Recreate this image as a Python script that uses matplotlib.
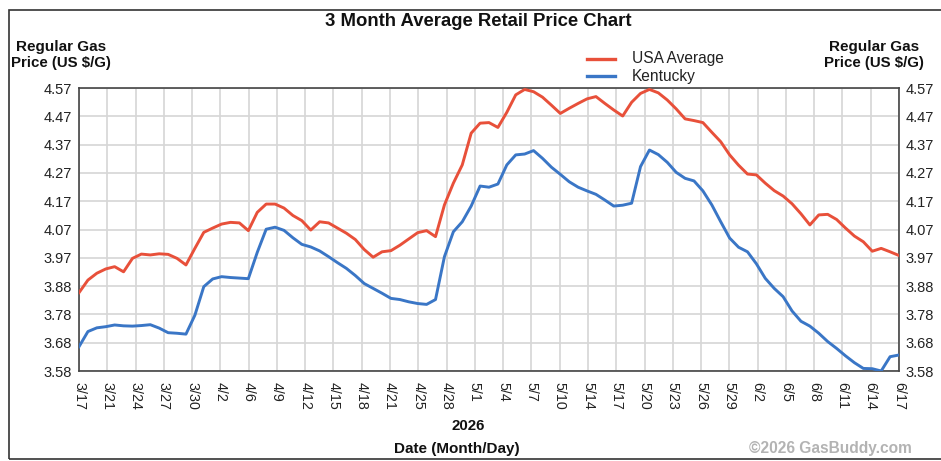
import numpy as np
import pandas as pd
import matplotlib
matplotlib.use("Agg")
import matplotlib.pyplot as plt
import matplotlib.dates as mdates
from matplotlib.patches import Rectangle
from matplotlib.lines import Line2D

plt.rcParams['font.family'] = ['Liberation Sans', 'DejaVu Sans']

# ---- data ----
start_date = "2026-03-17"
end_date = "2026-06-17"

usa_average = [3.854, 3.898, 3.922, 3.937, 3.945, 3.927, 3.974, 3.989, 3.986, 3.990,
               3.988, 3.974, 3.951, 4.009, 4.065, 4.080, 4.094, 4.100, 4.098, 4.071,
               4.135, 4.164, 4.164, 4.150, 4.124, 4.106, 4.073, 4.102, 4.098, 4.080,
               4.062, 4.040, 4.005, 3.978, 3.997, 4.001, 4.020, 4.042, 4.064, 4.071,
               4.050, 4.161, 4.237, 4.301, 4.412, 4.447, 4.449, 4.432, 4.485, 4.546,
               4.565, 4.557, 4.538, 4.510, 4.481, 4.499, 4.516, 4.532, 4.540, 4.516,
               4.493, 4.472, 4.520, 4.551, 4.565, 4.553, 4.528, 4.497, 4.462, 4.456,
               4.449, 4.415, 4.382, 4.336, 4.300, 4.269, 4.266, 4.237, 4.211, 4.192,
               4.165, 4.130, 4.091, 4.126, 4.128, 4.110, 4.080, 4.052, 4.032, 3.999,
               4.009, 3.997, 3.984]

kentucky = [3.665, 3.718, 3.731, 3.735, 3.741, 3.738, 3.737, 3.739, 3.742, 3.730,
            3.714, 3.712, 3.709, 3.775, 3.875, 3.902, 3.910, 3.907, 3.905, 3.903,
            3.995, 4.076, 4.083, 4.072, 4.046, 4.023, 4.014, 4.000, 3.980, 3.959,
            3.939, 3.914, 3.886, 3.869, 3.852, 3.834, 3.830, 3.822, 3.816, 3.813,
            3.830, 3.980, 4.067, 4.102, 4.157, 4.227, 4.223, 4.234, 4.301, 4.336,
            4.339, 4.351, 4.324, 4.293, 4.268, 4.242, 4.223, 4.210, 4.198, 4.178,
            4.157, 4.160, 4.167, 4.295, 4.353, 4.337, 4.310, 4.275, 4.254, 4.245,
            4.210, 4.161, 4.102, 4.045, 4.013, 3.997, 3.955, 3.904, 3.869, 3.840,
            3.790, 3.754, 3.737, 3.712, 3.683, 3.659, 3.633, 3.609, 3.589, 3.588,
            3.580, 3.630, 3.636]

x_tick_labels = ["3/17", "3/21", "3/24", "3/27", "3/30", "4/2", "4/6", "4/9", "4/12", "4/15",
                 "4/18", "4/21", "4/25", "4/28", "5/1", "5/4", "5/7", "5/10", "5/14", "5/17",
                 "5/20", "5/23", "5/26", "5/29", "6/2", "6/5", "6/8", "6/11", "6/14", "6/17"]
y_tick_labels = ["3.58", "3.68", "3.78", "3.88", "3.97", "4.07", "4.17", "4.27", "4.37", "4.47", "4.57"]
y_min, y_max = 3.58, 4.57

series_names = ["USA Average", "Kentucky"]
series_colors = ["#e8503a", "#3a76c6"]

# ---- figure ----
W, H = 941, 461
fig = plt.figure(figsize=(W / 100, H / 100), dpi=100)

def px(x, y):
    return x / W, 1 - y / H

ax_l, ax_t, ax_r, ax_b = 79, 88, 899, 371
ax = fig.add_axes([ax_l / W, 1 - ax_b / H, (ax_r - ax_l) / W, (ax_b - ax_t) / H])

dates = pd.date_range(start_date, end_date, freq="D")
xnum = mdates.date2num(dates)

for vals, col in zip([usa_average, kentucky], series_colors):
    ax.plot(xnum, vals, color=col, lw=2.1, solid_joinstyle="round", zorder=3)

ax.set_xlim(xnum[0], xnum[-1])
ax.set_ylim(y_min, y_max)

xt = np.linspace(xnum[0], xnum[-1], len(x_tick_labels))
ax.set_xticks(xt)
ax.set_xticklabels(x_tick_labels, rotation=270, fontsize=10.3, color="#222222")
yt = np.linspace(y_min, y_max, len(y_tick_labels))
ax.set_yticks(yt)
ax.set_yticklabels(y_tick_labels, fontsize=10.5, color="#222222")
ax.tick_params(axis="both", length=0)
ax.tick_params(axis="x", pad=8)
ax.tick_params(axis="y", pad=5, labelright=True, right=False)
for lab in ax.get_xticklabels():
    lab.set_va("top")
    lab.set_ha("center")

ax.grid(True, color="#d6d6d6", lw=1.2, zorder=0)
ax.set_axisbelow(True)
for s in ax.spines.values():
    s.set_color("#444444")
    s.set_linewidth(1.2)

# outer border
fig.patches.append(Rectangle(px(9, 459), (950 - 9) / W, (459 - 10) / H,
                             transform=fig.transFigure, fill=False,
                             edgecolor="#333333", lw=1.2))

# title and labels
fig.text(*px(478, 22), "3 Month Average Retail Price Chart", ha="center", va="center",
         fontsize=13.3, fontweight="bold", color="#111111")
for cx in (61, 874):
    fig.text(*px(cx, 47), "Regular Gas", ha="center", va="center", fontsize=11,
             fontweight="bold", color="#111111")
    fig.text(*px(cx, 63), "Price (US $/G)", ha="center", va="center", fontsize=10.8,
             fontweight="bold", color="#111111")

# legend
for i, (name, col) in enumerate(zip(series_names, series_colors)):
    yy = 59 + i * 17
    fig.add_artist(Line2D([587 / W, 615 / W], [1 - yy / H, 1 - yy / H],
                          transform=fig.transFigure, color=col, lw=2.4))
    fig.text(*px(632, yy), name, ha="left", va="center", fontsize=11.2, color="#222222")

fig.text(*px(468, 426), "2026", ha="center", va="center", fontsize=10.8,
         fontweight="bold", color="#111111")
fig.text(*px(457, 449), "Date (Month/Day)", ha="center", va="center", fontsize=11,
         fontweight="bold", color="#111111")
fig.text(*px(912, 448), "\u00a92026 GasBuddy.com", ha="right", va="center", fontsize=11.2,
         fontweight="bold", color="#b3b3b3")

fig.savefig("out.png", dpi=100)
